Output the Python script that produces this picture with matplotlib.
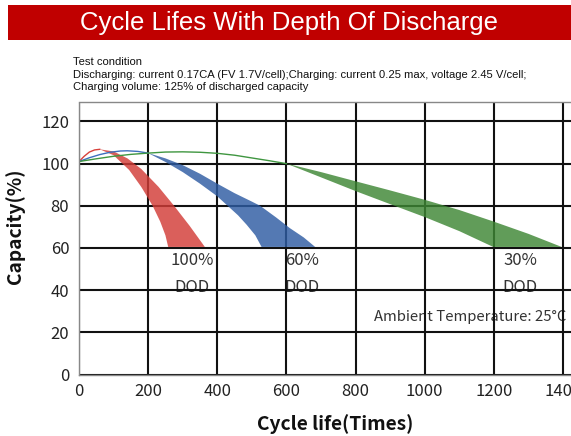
import matplotlib
matplotlib.use("Agg")
import matplotlib.pyplot as plt
from matplotlib.patches import Rectangle

# ---------------- data ----------------
x_ticks = [0, 200, 400, 600, 800, 1000, 1200, 1400]
y_ticks = [0, 20, 40, 60, 80, 100, 120]

# thin lines leading to each band
red_line_x = [0, 15, 30, 45, 60]
red_line_y = [101, 103.5, 105.5, 106.5, 106.8]
blue_line_x = [0, 30, 60, 90, 120, 140, 170, 200]
blue_line_y = [101, 102.8, 104.3, 105.4, 106.0, 106.1, 105.8, 105.0]
green_line_x = [0, 50, 100, 150, 200, 250, 300, 350, 400, 450, 500, 550, 600]
green_line_y = [101, 102.3, 103.5, 104.4, 105.0, 105.5, 105.6, 105.4, 104.9, 104.0, 102.7, 101.4, 100.0]

# bands: upper (right) edge and lower (left) edge, 100% DOD
red_up_x = [60, 100, 140, 180, 230, 275, 320, 364]
red_up_y = [106.8, 105.8, 102.5, 97.5, 89.0, 80.0, 70.5, 60.5]
red_lo_x = [60, 100, 145, 180, 213, 235, 250, 258]
red_lo_y = [106.8, 104.0, 97.0, 89.0, 80.0, 72.5, 66.0, 60.5]

# 60% DOD
blue_up_x = [200, 250, 300, 350, 400, 450, 500, 524, 570, 610, 650, 683]
blue_up_y = [105.0, 102.5, 99.3, 95.2, 90.5, 86.0, 82.0, 80.0, 74.5, 69.4, 65.0, 60.5]
blue_lo_x = [200, 250, 300, 350, 400, 430, 460, 485, 510, 528]
blue_lo_y = [105.0, 100.8, 96.0, 90.5, 84.5, 80.0, 75.5, 71.0, 66.0, 60.5]

# 30% DOD
green_up_x = [600, 700, 803, 900, 1001, 1100, 1198, 1300, 1396]
green_up_y = [100.0, 96.0, 91.5, 87.3, 82.8, 78.0, 72.6, 66.7, 60.5]
green_lo_x = [600, 700, 803, 900, 1001, 1100, 1198]
green_lo_y = [100.0, 93.5, 86.8, 80.8, 74.6, 68.0, 60.5]

dod_labels = ["100%", "60%", "30%"]
dod_x = [327, 645, 1276]

title = "Cycle Lifes With Depth Of Discharge"
cond_lines = [
    "Test condition",
    "Discharging: current 0.17CA (FV 1.7V/cell);Charging: current 0.25 max, voltage 2.45 V/cell;",
    "Charging volume: 125% of discharged capacity",
]

# ---------------- figure ----------------
W, H = 571, 436
fig = plt.figure(figsize=(W / 100, H / 100), dpi=100)
cjk = ["Noto Sans CJK SC", "DejaVu Sans"]
arial = ["Liberation Sans", "DejaVu Sans"]

# title bar
fig.patches.append(Rectangle((8 / W, 1 - 40 / H), (W - 8) / W, 35 / H,
                             transform=fig.transFigure, facecolor="#c00000",
                             edgecolor="none", zorder=0))
fig.text(289.5 / W, 1 - 23 / H, title, color="white", fontsize=18.5,
         family=arial, ha="center", va="center")

for i, line in enumerate(cond_lines):
    fig.text(73 / W, 1 - (62 + 12.5 * i) / H, line, fontsize=8.1,
             family=arial, ha="left", va="center", color="#111111")

left, right = 79 / W, 1.0
bottom, top = 1 - 374.5 / H, 1 - 102.5 / H
ax = fig.add_axes([left, bottom, right - left, top - bottom])
ax.set_xlim(0, 1423)
ax.set_ylim(0, 129)
ax.set_xticks(x_ticks)
ax.set_yticks(y_ticks)
ax.tick_params(length=0, labelsize=12, colors="#222222")
ax.tick_params(axis="x", pad=6)
ax.tick_params(axis="y", pad=7)
for lab in ax.get_xticklabels() + ax.get_yticklabels():
    lab.set_family(cjk)

ax.grid(True, color="#111111", linewidth=1.5, zorder=2)
ax.set_axisbelow(False)
for gl in ax.get_xgridlines() + ax.get_ygridlines():
    gl.set_zorder(2)
for s in ["left", "bottom", "top"]:
    ax.spines[s].set_color("#888888")
    ax.spines[s].set_linewidth(1.0)
    ax.spines[s].set_zorder(4)
ax.spines["right"].set_visible(False)

# bands
def band(ux, uy, lx, ly, color):
    xs = list(ux) + list(lx)[::-1]
    ys = list(uy) + list(ly)[::-1]
    ax.fill(xs, ys, color=color, alpha=0.82, linewidth=0, zorder=3)

band(red_up_x, red_up_y, red_lo_x, red_lo_y, "#d23c37")
band(blue_up_x, blue_up_y, blue_lo_x, blue_lo_y, "#2e5ca3")
band(green_up_x, green_up_y, green_lo_x, green_lo_y, "#3e8734")

ax.plot(red_line_x, red_line_y, color="#d8403a", lw=1.0, zorder=3)
ax.plot(blue_line_x, blue_line_y, color="#3d6fbd", lw=1.0, zorder=3)
ax.plot(green_line_x, green_line_y, color="#3f9640", lw=1.0, zorder=3)

for lab, xv in zip(dod_labels, dod_x):
    ax.text(xv, 54.0, lab, fontsize=12, family=cjk, color="#333333",
            ha="center", va="center", zorder=1)
    ax.text(xv, 41.3, "DOD", fontsize=12, family=cjk, color="#333333",
            ha="center", va="center", zorder=1)

ax.text(853, 27.5, "Ambient Temperature: 25°C", fontsize=10.7, family=cjk,
        color="#333333", ha="left", va="center", zorder=1)

fig.text(15 / W, 1 - 226 / H, "Capacity(%)", rotation=90, fontsize=13.8,
         fontweight="bold", family=cjk, ha="center", va="center", color="#111111")
fig.text(335 / W, 1 - 424 / H, "Cycle life(Times)", fontsize=13.8,
         fontweight="bold", family=cjk, ha="center", va="center", color="#111111")

fig.savefig("out.png", dpi=100)
